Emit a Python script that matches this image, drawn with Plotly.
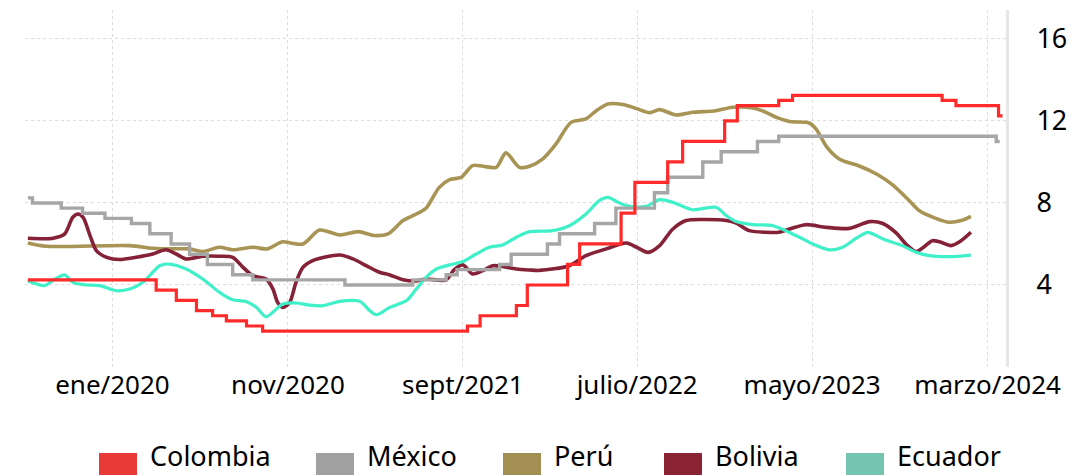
import plotly.graph_objects as go

FONT = "Noto Sans"

# Colombia (step series)
col_dates = ["2019-08-07", "2020-03-17", "2020-04-21", "2020-05-26", "2020-06-23",
             "2020-07-17", "2020-08-21", "2020-09-18", "2021-09-09", "2021-10-01",
             "2021-12-03", "2021-12-22", "2022-03-02", "2022-03-23", "2022-06-03",
             "2022-06-27", "2022-08-23", "2022-09-18", "2022-11-30", "2022-12-22",
             "2023-03-04", "2023-03-28", "2023-12-13", "2024-01-06", "2024-03-20",
             "2024-03-27"]
col_vals = [4.25, 3.75, 3.25, 2.75, 2.5, 2.25, 2.0, 1.75, 2.0, 2.5,
            3.0, 4.0, 5.0, 6.0, 7.5, 9.0, 10.0, 11.0, 12.0, 12.75,
            13.0, 13.25, 13.0, 12.75, 12.25, 12.25]

# México (step series)
mex_dates = ["2019-08-07", "2019-08-15", "2019-10-04", "2019-11-10", "2019-12-19",
             "2020-02-03", "2020-03-06", "2020-04-12", "2020-05-14", "2020-06-14",
             "2020-07-28", "2020-09-01", "2021-02-08", "2021-06-06", "2021-08-03",
             "2021-08-22", "2021-11-04", "2021-11-24", "2022-01-26", "2022-02-16",
             "2022-04-18", "2022-05-25", "2022-07-31", "2022-08-23", "2022-10-23",
             "2022-11-24", "2023-01-26", "2023-03-04", "2024-03-16", "2024-03-22"]
mex_vals = [8.25, 8.0, 7.75, 7.5, 7.25, 7.0, 6.5, 6.0, 5.5, 5.0,
            4.5, 4.25, 4.0, 4.25, 4.5, 4.75, 5.0, 5.5, 6.0, 6.5,
            7.0, 7.75, 8.5, 9.25, 10.0, 10.5, 11.0, 11.25, 11.0, 11.0]

# Perú
per_dates = ["2019-08-07", "2019-09-08", "2020-01-31", "2020-03-11", "2020-04-09",
             "2020-05-14", "2020-06-06", "2020-07-05", "2020-07-28", "2020-09-01",
             "2020-09-26", "2020-10-17", "2020-10-23", "2020-11-27", "2020-12-26",
             "2021-01-30", "2021-03-03", "2021-04-01", "2021-04-24", "2021-05-20",
             "2021-06-12", "2021-06-29", "2021-07-22", "2021-08-09", "2021-08-29",
             "2021-09-18", "2021-10-06", "2021-10-29", "2021-11-15", "2021-12-08",
             "2021-12-26", "2022-01-18", "2022-02-10", "2022-03-08", "2022-04-03",
             "2022-04-21", "2022-05-11", "2022-06-06", "2022-06-30", "2022-07-23",
             "2022-08-09", "2022-09-07", "2022-10-05", "2022-11-15", "2022-12-14",
             "2023-01-18", "2023-02-10", "2023-02-28", "2023-03-23", "2023-04-26",
             "2023-05-08", "2023-05-26", "2023-06-12", "2023-06-23", "2023-07-23",
             "2023-08-21", "2023-09-18", "2023-10-17", "2023-11-03", "2023-12-02",
             "2023-12-25", "2024-01-15", "2024-02-01"]
per_vals = [6.05, 5.89, 5.92, 5.79, 5.76, 5.76, 5.63, 5.84, 5.72, 5.84,
            5.76, 6.05, 6.11, 6.0, 6.68, 6.44, 6.6, 6.41, 6.49, 7.14,
            7.46, 7.74, 8.76, 9.14, 9.25, 9.82, 9.79, 9.74, 10.44, 9.74,
            9.79, 10.15, 10.88, 11.93, 12.1, 12.5, 12.83, 12.8, 12.6, 12.4,
            12.55, 12.29, 12.42, 12.5, 12.67, 12.63, 12.42, 12.17, 11.97, 11.9,
            11.6, 10.75, 10.25, 10.06, 9.79, 9.41, 8.88, 8.11, 7.63, 7.25,
            7.06, 7.14, 7.35]

# Bolivia
bol_dates = ["2019-08-07", "2019-09-20", "2019-10-10", "2019-10-24", "2019-11-02",
             "2019-11-11", "2019-11-23", "2019-12-04", "2019-12-22", "2020-01-13",
             "2020-02-11", "2020-03-11", "2020-04-03", "2020-04-21", "2020-05-08",
             "2020-06-06", "2020-07-05", "2020-07-28", "2020-08-15", "2020-09-01",
             "2020-09-24", "2020-10-06", "2020-10-14", "2020-10-23", "2020-11-04",
             "2020-11-15", "2020-11-27", "2020-12-14", "2021-01-07", "2021-01-30",
             "2021-02-22", "2021-03-17", "2021-04-09", "2021-04-27", "2021-05-20",
             "2021-06-12", "2021-06-29", "2021-08-03", "2021-08-17", "2021-09-01",
             "2021-09-18", "2021-10-06", "2021-10-23", "2021-11-09", "2021-12-03",
             "2021-12-26", "2022-01-12", "2022-03-05", "2022-04-03", "2022-05-08",
             "2022-06-12", "2022-06-30", "2022-07-20", "2022-08-09", "2022-09-01",
             "2022-09-24", "2022-10-29", "2022-12-03", "2022-12-20", "2023-01-12",
             "2023-02-10", "2023-03-04", "2023-03-23", "2023-04-20", "2023-05-26",
             "2023-07-05", "2023-08-09", "2023-09-01", "2023-09-24", "2023-10-11",
             "2023-10-29", "2023-11-12", "2023-11-26", "2023-12-11", "2023-12-28",
             "2024-01-15", "2024-02-01"]
bol_vals = [6.28, 6.28, 6.49, 7.3, 7.46, 7.3, 6.41, 5.68, 5.35, 5.24,
            5.35, 5.51, 5.72, 5.51, 5.27, 5.4, 5.4, 5.35, 4.86, 4.45,
            4.29, 3.8, 3.15, 2.9, 3.15, 4.13, 4.86, 5.19, 5.38, 5.46,
            5.27, 4.94, 4.62, 4.49, 4.26, 4.2, 4.29, 4.25, 4.75, 4.98,
            4.54, 4.7, 4.94, 4.9, 4.78, 4.73, 4.71, 4.94, 5.43, 5.76,
            6.05, 5.84, 5.59, 5.92, 6.73, 7.14, 7.19, 7.14, 7.02, 6.65,
            6.57, 6.57, 6.73, 6.94, 6.81, 6.76, 7.09, 7.0, 6.54, 6.0,
            5.63, 5.87, 6.16, 6.08, 5.92, 6.16, 6.57]

# Ecuador
ecu_dates = ["2019-08-07", "2019-08-22", "2019-09-05", "2019-09-23", "2019-10-10",
             "2019-10-24", "2019-11-17", "2019-12-10", "2020-01-08", "2020-01-31",
             "2020-02-23", "2020-03-11", "2020-03-23", "2020-04-09", "2020-05-08",
             "2020-06-06", "2020-07-05", "2020-07-28", "2020-08-20", "2020-09-07",
             "2020-09-24", "2020-10-12", "2020-10-23", "2020-11-15", "2020-12-08",
             "2021-01-01", "2021-01-30", "2021-03-06", "2021-03-23", "2021-04-04",
             "2021-04-27", "2021-05-26", "2021-06-12", "2021-06-29", "2021-07-17",
             "2021-08-09", "2021-09-01", "2021-09-24", "2021-10-17", "2021-11-09",
             "2021-12-03", "2021-12-26", "2022-02-04", "2022-03-05", "2022-04-03",
             "2022-04-26", "2022-05-11", "2022-05-31", "2022-06-18", "2022-07-17",
             "2022-08-09", "2022-09-01", "2022-10-05", "2022-11-15", "2022-12-03",
             "2022-12-20", "2023-01-18", "2023-02-22", "2023-04-03", "2023-05-02",
             "2023-05-31", "2023-06-23", "2023-07-17", "2023-08-06", "2023-09-01",
             "2023-10-05", "2023-10-29", "2023-11-21", "2023-12-25", "2024-02-01"]
ecu_vals = [4.21, 4.05, 3.97, 4.29, 4.49, 4.13, 4.0, 3.97, 3.72, 3.8,
            4.13, 4.62, 4.94, 5.02, 4.78, 4.29, 3.64, 3.28, 3.19, 2.91,
            2.45, 2.83, 3.07, 3.12, 3.02, 2.99, 3.2, 3.2, 2.75, 2.55,
            2.91, 3.24, 3.8, 4.37, 4.78, 4.98, 5.14, 5.51, 5.84, 5.95,
            6.33, 6.6, 6.65, 6.89, 7.46, 8.11, 8.27, 8.0, 7.84, 7.84,
            8.16, 8.03, 7.67, 7.79, 7.38, 7.09, 6.94, 6.89, 6.41, 6.0,
            5.71, 5.84, 6.28, 6.57, 6.24, 5.92, 5.59, 5.43, 5.38, 5.46]

tick_dates = ["2020-01-01", "2020-11-01", "2021-09-01", "2022-07-01", "2023-05-01", "2024-03-01"]
tick_text = ["ene/2020", "nov/2020", "sept/2021", "julio/2022", "mayo/2023", "marzo/2024"]
y_ticks = [4, 8, 12, 16]

names = ["Colombia", "México", "Perú", "Bolivia", "Ecuador"]
line_colors = ["#ff2a2a", "#a6a6a6", "#a89454", "#852237", "#3ff0c8"]
legend_colors = ["#e83a36", "#a0a0a0", "#a38f52", "#8b2335", "#73c4b0"]
line_widths = [3.2, 3.4, 3.6, 3.6, 3.2]

series = [
    (col_dates, col_vals, "hv"),
    (mex_dates, mex_vals, "hv"),
    (per_dates, per_vals, "spline"),
    (bol_dates, bol_vals, "spline"),
    (ecu_dates, ecu_vals, "spline"),
]

# the page body has an 8px margin, so the figure is drawn 8px in from the
# window corner; size it to the window and keep screen positions in mind
OFF = 8
W, H = 1088 - OFF, 475 - OFF
L, R, T, B = 25 - OFF, 82, 10 - OFF, 108
PW, PH = W - L - R, H - T - B


def px_x(p):  # window pixel -> paper x
    return (p - OFF - L) / PW


def px_y(p):  # window pixel -> paper y
    return (H - B - (p - OFF)) / PH


fig = go.Figure()
# Colombia drawn last so it sits on top, as in the reference
for i in [2, 3, 4, 1, 0]:
    d, v, shape = series[i]
    fig.add_trace(go.Scatter(
        x=d, y=v, mode="lines", name=names[i], showlegend=False,
        line=dict(color=line_colors[i], width=line_widths[i], shape=shape, smoothing=0.8),
    ))

# legend drawn by hand: the reference uses big flat swatches
leg_x = [99, 316, 503, 664, 846]
shapes = []
annotations = []
for i, name in enumerate(names):
    shapes.append(dict(type="rect", xref="paper", yref="paper",
                       x0=px_x(leg_x[i]), x1=px_x(leg_x[i] + 38),
                       y0=px_y(480), y1=px_y(453),
                       fillcolor=legend_colors[i], line_width=0))
    annotations.append(dict(text=name, xref="paper", yref="paper",
                            x=px_x(leg_x[i] + 50), y=px_y(475),
                            xanchor="left", yanchor="bottom", showarrow=False,
                            borderpad=0,
                            font=dict(size=27, color="#000000", family=FONT)))

fig.update_layout(
    width=W, height=H,
    margin=dict(l=L, r=R, t=T, b=B, autoexpand=False),
    plot_bgcolor="white", paper_bgcolor="white",
    font=dict(family=FONT, size=27, color="#000000"),
    showlegend=False,
    shapes=shapes,
    annotations=annotations,
    xaxis=dict(
        type="date",
        range=["2019-08-02", "2024-04-02"],
        tickvals=tick_dates, ticktext=tick_text,
        showgrid=True, gridcolor="#dcdcdc", griddash="dot", gridwidth=1,
        showline=False, zeroline=False, ticks="",
        tickfont=dict(size=26),
    ),
    yaxis=dict(
        side="right",
        range=[0, 17.41],
        tickvals=y_ticks,
        showgrid=True, gridcolor="#dcdcdc", griddash="dot", gridwidth=1,
        showline=True, linecolor="#e6e6e6", linewidth=3,
        zeroline=False, ticks="", ticklabelstandoff=22,
        tickfont=dict(size=27),
    ),
)

fig.write_html("out.html")
